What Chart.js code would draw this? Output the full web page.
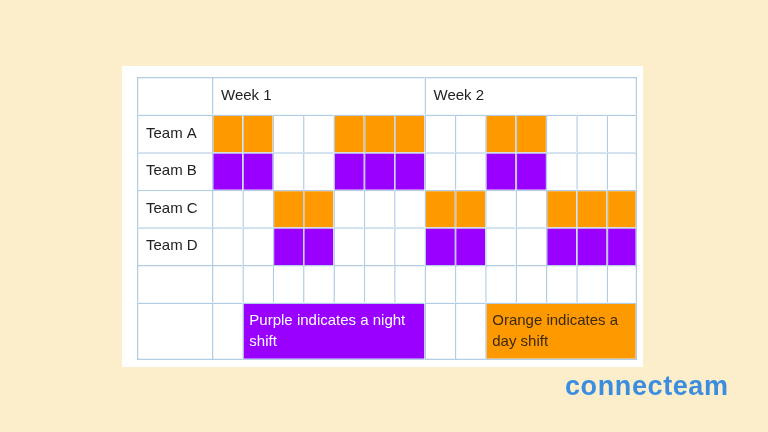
<!DOCTYPE html>
<html>
<head>
<meta charset="utf-8">
<script src="https://cdn.jsdelivr.net/npm/chart.js@4"></script>
<style>
  html, body { margin: 0; padding: 0; }
  body { width: 768px; height: 432px; background: #fdeecb; position: relative; overflow: hidden; }
  #panel { position: absolute; left: 122px; top: 66px; width: 521px; height: 301px; background: #ffffff; }
  #chart { position: absolute; left: 0; top: 0; }
  #logo { position: absolute; left: 565px; top: 371px; font: bold 27px "Liberation Sans", Arial, sans-serif; color: #3b8ddf; letter-spacing: 0.6px; }
</style>
</head>
<body>
<div id="panel"></div>
<canvas id="chart" width="768" height="432"></canvas>
<div id="logo">connecteam</div>
<script>
const weekLabels = ['Week 1', 'Week 2'];
const teams = ['Team A', 'Team B', 'Team C', 'Team D'];
// D = day shift, N = night shift, '' = off
const teamAShifts = ['D', 'D', '', '', 'D', 'D', 'D', '', '', 'D', 'D', '', '', ''];
const teamBShifts = ['N', 'N', '', '', 'N', 'N', 'N', '', '', 'N', 'N', '', '', ''];
const teamCShifts = ['', '', 'D', 'D', '', '', '', 'D', 'D', '', '', 'D', 'D', 'D'];
const teamDShifts = ['', '', 'N', 'N', '', '', '', 'N', 'N', '', '', 'N', 'N', 'N'];
const noteTexts = ['Purple indicates a night shift', 'Orange indicates a day shift'];
const noteShifts = ['N', 'D'];
const noteFromDay = [1, 9];
const noteToDay = [7, 14];

const shiftColors = {D: '#ff9900', N: '#9900ff', '': '#ffffff'};
const noteTextColors = {D: '#3a2a12', N: '#ffffff'};
const lineColor = '#b2cde5';
const days = teamAShifts.length;

// table geometry (pixels on the page)
const tableLeft = 137, labelRight = 212, tableRight = 637;
const tableTop = 77, tableBottom = 360;
const dayPx = (tableRight - labelRight) / days;
const xMin = -(labelRight - tableLeft) / dayPx;
const noteRowUnits = 1.53;
const yMax = 6 + noteRowUnits;
const unitPx = (tableBottom - tableTop) / yMax;

// build table rows
const rows = [];
rows.push({height: 1, cells: [
  {from: xMin, to: 0, text: '', shift: ''},
  {from: 0, to: 7, text: weekLabels[0], shift: ''},
  {from: 7, to: 14, text: weekLabels[1], shift: ''},
]});
[teamAShifts, teamBShifts, teamCShifts, teamDShifts].forEach((shifts, i) => {
  const cells = [{from: xMin, to: 0, text: teams[i], shift: ''}];
  shifts.forEach((s, d) => cells.push({from: d, to: d + 1, text: '', shift: s}));
  rows.push({height: 1, cells});
});
const blank = [{from: xMin, to: 0, text: '', shift: ''}];
for (let d = 0; d < days; d++) blank.push({from: d, to: d + 1, text: '', shift: ''});
rows.push({height: 1, cells: blank});
const noteCells = [{from: xMin, to: 0, text: '', shift: ''}];
for (let d = 0; d < days; d++) {
  const n = noteFromDay.indexOf(d);
  if (n >= 0) {
    noteCells.push({from: d, to: noteToDay[n], text: noteTexts[n], shift: noteShifts[n], note: true});
    d = noteToDay[n] - 1;
  } else {
    noteCells.push({from: d, to: d + 1, text: '', shift: ''});
  }
}
rows.push({height: noteRowUnits, cells: noteCells});

let yStart = 0;
const datasets = rows.map((row, r) => {
  const center = yStart + row.height / 2;
  yStart += row.height;
  const last = r === rows.length - 1;
  return {
    label: 'row' + r,
    cells: row.cells,
    data: row.cells.map(c => ({x: [c.from, c.to], y: center})),
    backgroundColor: row.cells.map(c => shiftColors[c.shift]),
    borderColor: lineColor,
    borderWidth: (ctx) => {
      const c = ctx.dataset.cells[ctx.dataIndex];
      if (!c) return 1;
      return {top: 1.5, left: 1.5, right: c.to >= days ? 1.5 : 0, bottom: last ? 1.5 : 0};
    },
    borderSkipped: false,
    inflateAmount: 0,
    grouped: false,
    barThickness: row.height * unitPx,
  };
});

const cellText = {
  id: 'cellText',
  afterDatasetsDraw(chart) {
    const ctx = chart.ctx;
    ctx.save();
    ctx.font = '15px "Liberation Sans", Arial, sans-serif';
    ctx.textBaseline = 'middle';
    chart.data.datasets.forEach((ds, i) => {
      chart.getDatasetMeta(i).data.forEach((el, j) => {
        const c = ds.cells[j];
        if (!c.text) return;
        const left = Math.min(el.x, el.base), right = Math.max(el.x, el.base);
        const pad = c.note ? 7 : 9;
        ctx.fillStyle = c.note ? noteTextColors[c.shift] : '#222222';
        const words = c.text.split(' ');
        const lines = [];
        let line = '';
        words.forEach(w => {
          const t = line ? line + ' ' + w : w;
          if (ctx.measureText(t).width > right - left - 2 * pad && line) { lines.push(line); line = w; }
          else line = t;
        });
        lines.push(line);
        const lh = 21;
        lines.forEach((l, k) => {
          ctx.fillText(l, left + pad, el.y + (k - (lines.length - 1) / 2) * lh);
        });
      });
    });
    ctx.restore();
  }
};

new Chart(document.getElementById('chart'), {
  type: 'bar',
  data: {datasets},
  options: {
    indexAxis: 'y',
    responsive: false,
    animation: false,
    layout: {padding: {left: tableLeft, top: tableTop, right: 768 - tableRight, bottom: 432 - tableBottom}},
    scales: {
      x: {type: 'linear', min: xMin, max: days, display: false, offset: false, grid: {offset: false}},
      y: {type: 'linear', min: 0, max: yMax, reverse: true, display: false, offset: false, grid: {offset: false}},
    },
    plugins: {legend: {display: false}, tooltip: {enabled: false}},
  },
  plugins: [cellText],
});
</script>
</body>
</html>
